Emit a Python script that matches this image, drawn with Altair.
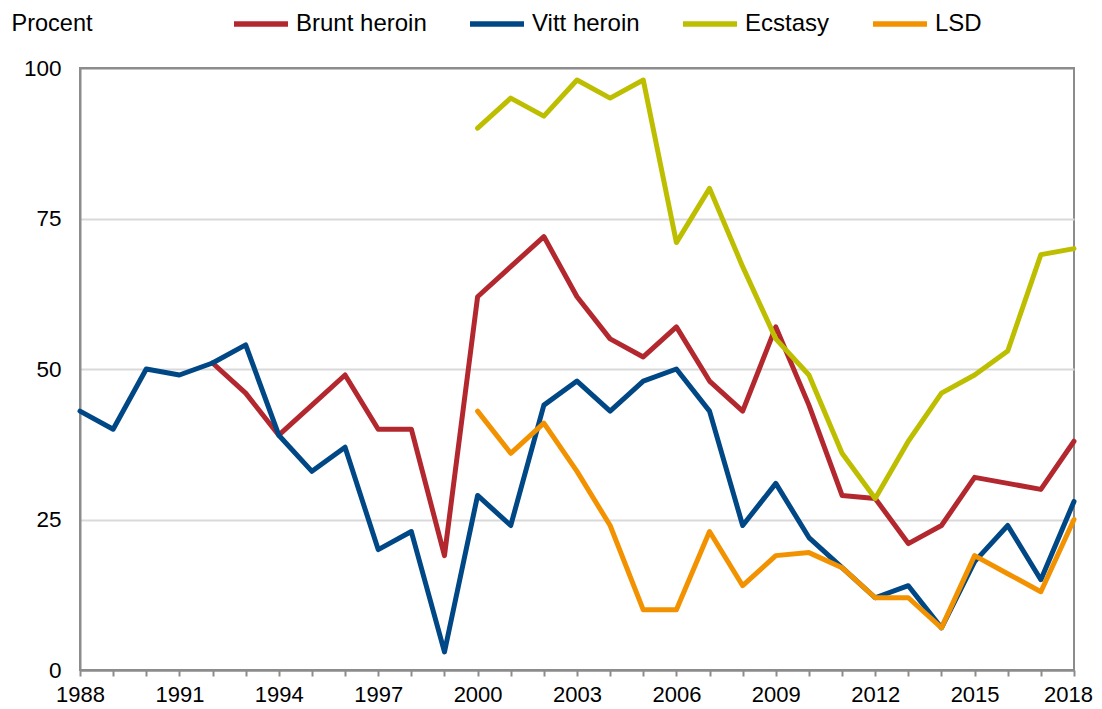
import altair as alt
import pandas as pd

years = list(range(1988, 2019))
brunt = [None, None, None, None, 51, 46, 39, 44, 49, 40, 40, 19, 62, 67, 72, 62, 55, 52, 57, 48, 43, 57, 44, 29, 28.5, 21, 24, 32, 31, 30, 38]
vitt = [43, 40, 50, 49, 51, 54, 39, 33, 37, 20, 23, 3, 29, 24, 44, 48, 43, 48, 50, 43, 24, 31, 22, 17, 12, 14, 7, 18, 24, 15, 28]
ecstasy = [None] * 12 + [90, 95, 92, 98, 95, 98, 71, 80, 67, 55, 49, 36, 28.5, 38, 46, 49, 53, 69, 70]
lsd = [None] * 12 + [43, 36, 41, 33, 24, 10, 10, 23, 14, 19, 19.5, 17, 12, 12, 7, 19, 16, 13, 25]

series_names = ["Brunt heroin", "Vitt heroin", "Ecstasy", "LSD"]
series_values = [brunt, vitt, ecstasy, lsd]
colors = ["#B3282F", "#004786", "#BEBE00", "#F39200"]

rows = []
for name, vals in zip(series_names, series_values):
    for y, v in zip(years, vals):
        if v is not None:
            rows.append({"year": y, "value": v, "series": name})
df = pd.DataFrame(rows)

FONT = "Liberation Sans"
GRID = "#D9D9D9"
AXIS = "#8C8C8C"

color_scale = alt.Scale(domain=series_names, range=colors)

x_enc = alt.X(
    "year:Q",
    scale=alt.Scale(domain=[1988, 2018], nice=False, zero=False),
    axis=alt.Axis(
        values=years,
        labelExpr="(datum.value - 1988) % 3 == 0 ? datum.value : ''",
        labelOverlap=False,
        labelFlush=False,
        labelOffset=alt.condition("datum.value == 2018", alt.value(-6), alt.value(0)),
        grid=False,
        title=None,
        domainColor=AXIS,
        domainWidth=2,
        tickColor=AXIS,
        tickWidth=2,
        tickSize=6,
        labelPadding=8,
        labelFontSize=22,
        labelColor="#000000",
        labelFont=FONT,
    ),
)
y_enc = alt.Y(
    "value:Q",
    scale=alt.Scale(domain=[0, 100], nice=False),
    axis=alt.Axis(
        values=[0, 25, 50, 75, 100],
        ticks=False,
        tickSize=0,
        grid=True,
        gridColor=alt.condition("datum.value == 100 || datum.value == 0", alt.value(AXIS), alt.value(GRID)),
        gridWidth=2,
        domainColor=AXIS,
        domainWidth=2,
        labelPadding=19,
        labelFontSize=22.5,
        labelColor="#000000",
        labelFont=FONT,
        title="Procent",
        titleAngle=0,
        titleAlign="left",
        titleBaseline="middle",
        titleX=-69,
        titleY=-45,
        titleFontSize=23.5,
        titleFontWeight="normal",
        titleFont=FONT,
        titleColor="#000000",
    ),
)

layers = []
for i, name in enumerate(series_names):
    color_enc = alt.Color(
        "series:N",
        scale=color_scale,
        legend=alt.Legend(
            title=None,
            orient="none",
            direction="horizontal",
            legendX=151,
            legendY=-74,
            symbolType="stroke",
            symbolSize=2916,
            symbolStrokeWidth=5.5,
            labelFontSize=24,
            labelFont=FONT,
            labelColor="#000000",
            labelOffset=5,
            columnPadding=32,
            padding=0,
        ) if i == 0 else None,
    )
    layer = (
        alt.Chart(df)
        .transform_filter(alt.datum.series == name)
        .mark_line(strokeWidth=5, strokeCap="round", strokeJoin="round")
        .encode(x=x_enc, y=y_enc, color=color_enc, order="year:Q")
    )
    layers.append(layer)

chart = (
    alt.layer(*layers)
    .properties(
        width=994,
        height=602,
        autosize=alt.AutoSizeParams(type="none"),
        padding={"left": 72, "top": 60, "right": 20, "bottom": 38},
        background="#FFFFFF",
    )
    .configure_view(stroke=AXIS, strokeWidth=2)
)

chart.save("out.html", embed_options={"renderer": "svg", "actions": False})
